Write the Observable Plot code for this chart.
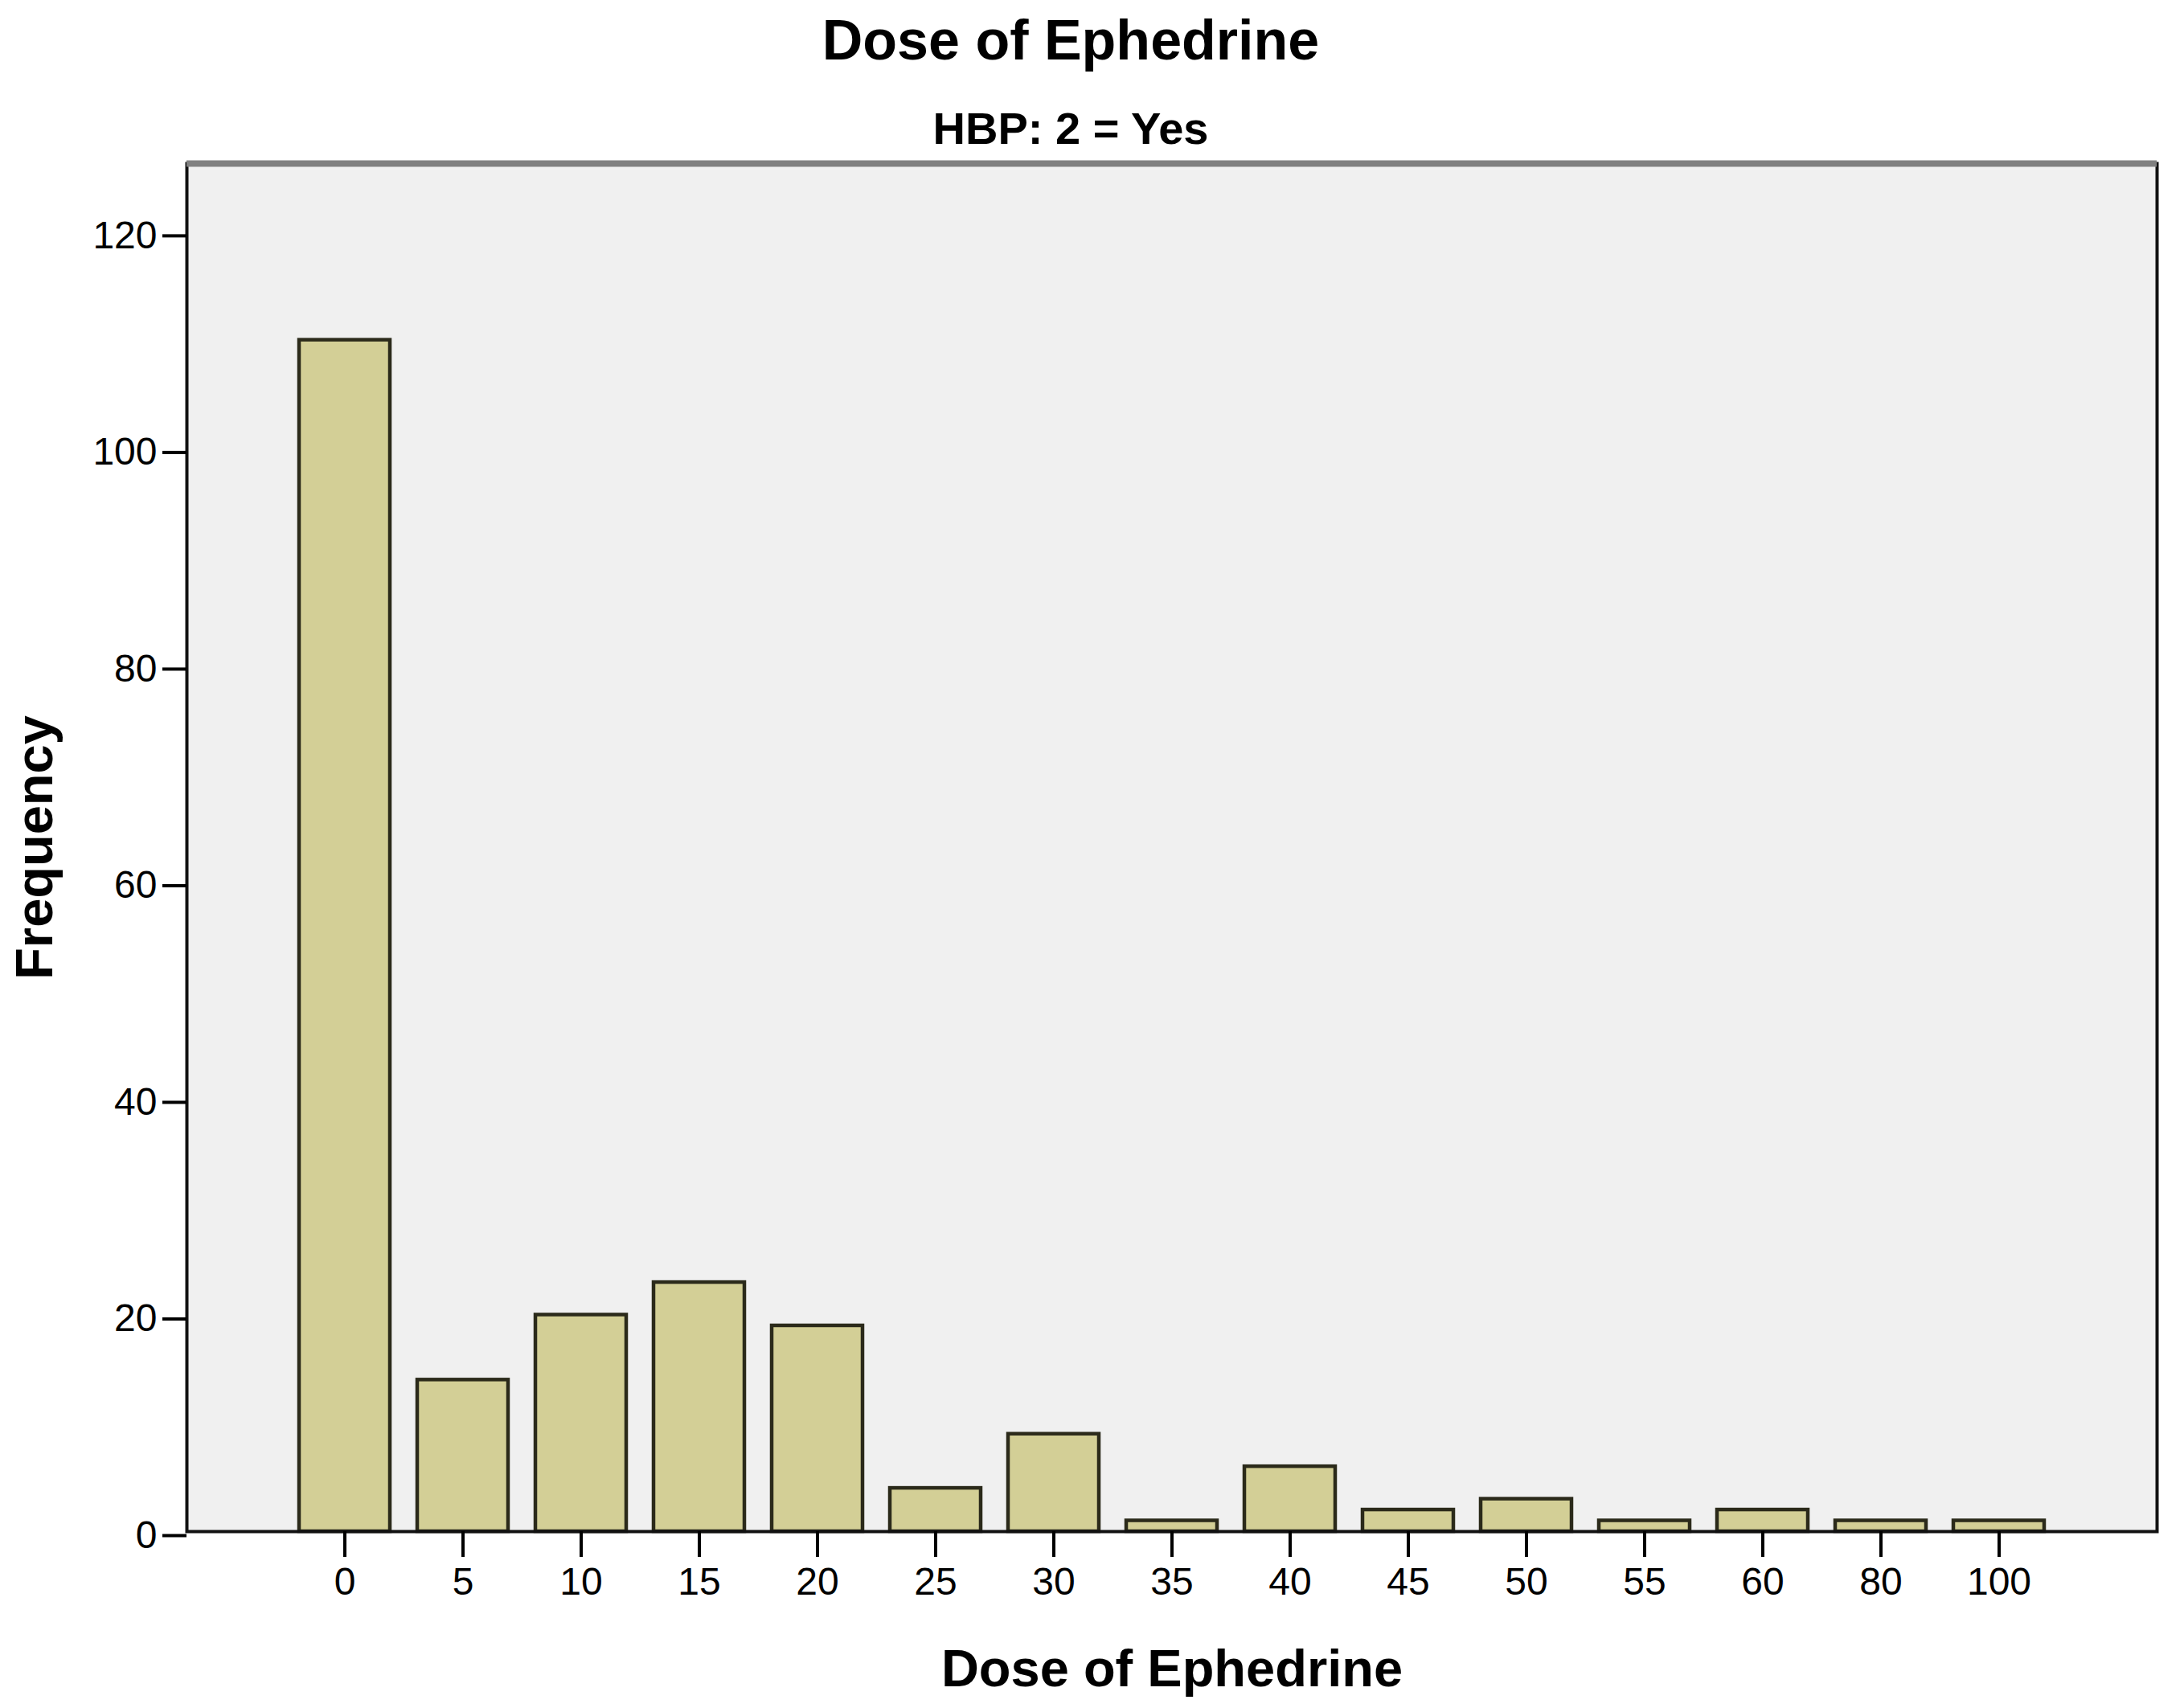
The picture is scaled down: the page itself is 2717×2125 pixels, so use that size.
<!DOCTYPE html>
<html>
<head>
<meta charset="utf-8">
<script src="https://cdn.jsdelivr.net/npm/d3@7"></script>
<script src="https://cdn.jsdelivr.net/npm/@observablehq/plot@0.6"></script>
<style>
  html, body { margin: 0; padding: 0; background: #ffffff; }
  body { font-family: "Liberation Sans", Arial, sans-serif; color: #000; }
  #wrap { position: relative; width: 2717px; height: 2125px; overflow: hidden; }
  #hdr { position: relative; width: 2717px; height: 190px; }
  #title { position: absolute; top: -5px; left: 0; width: 2664px; text-align: center;
           font-weight: bold; font-size: 70px; line-height: 110px; white-space: nowrap; }
  #subtitle { position: absolute; top: 120px; left: 0; width: 2664px; text-align: center;
              font-weight: bold; font-size: 56px; line-height: 80px; white-space: nowrap; }
  #chart svg { display: block; }
</style>
</head>
<body>
<div id="wrap">
  <div id="hdr">
    <div id="title">Dose of Ephedrine</div>
    <div id="subtitle">HBP: 2 = Yes</div>
  </div>
  <div id="chart"></div>
</div>
<script>
// ---- data ----
const doses = ["0", "5", "10", "15", "20", "25", "30", "35", "40", "45", "50", "55", "60", "80", "100"];
const frequencies = [110, 14, 20, 23, 19, 4, 9, 1, 6, 2, 3, 1, 2, 1, 1];
const yTicks = [0, 20, 40, 60, 80, 100, 120];
const yMax = 126.3;
const xLabel = "Dose of Ephedrine";
const yLabel = "Frequency";

const table = doses.map((d, i) => ({dose: d, frequency: frequencies[i]}));

const chart = Plot.plot({
  width: 2717,
  height: 1935,
  marginTop: 13,
  marginBottom: 220,
  marginLeft: 232,
  marginRight: 34,
  style: {fontFamily: "'Liberation Sans', Arial, sans-serif", color: "#000", background: "#ffffff"},
  x: {type: "band", domain: doses, paddingInner: 0.23, paddingOuter: 0.95, label: null},
  y: {domain: [0, yMax], label: null},
  marks: [
    Plot.frame({fill: "#f0f0f0"}),
    Plot.barY(table, {x: "dose", y: "frequency", fill: "#d3cf96", stroke: "#2b2a1a", strokeWidth: 4.5}),
    Plot.frame({stroke: "#111", strokeWidth: 4}),
    Plot.ruleY([yMax], {stroke: "#808080", strokeWidth: 8}),
    Plot.axisY({ticks: yTicks, tickSize: 30, tickPadding: 7, fontSize: 48, strokeWidth: 4, dy: 5, label: null}),
    Plot.axisX({tickSize: 32, tickPadding: 12, fontSize: 48, strokeWidth: 4, label: null}),
    Plot.text([xLabel], {frameAnchor: "bottom", dy: 172, text: d => d, fontSize: 65, fontWeight: "bold", lineAnchor: "middle", textAnchor: "middle"}),
    Plot.text([yLabel], {frameAnchor: "left", dx: -188, rotate: -90, text: d => d, fontSize: 65, fontWeight: "bold", lineAnchor: "middle", textAnchor: "middle"})
  ]
});
document.getElementById("chart").appendChild(chart);
</script>
</body>
</html>
